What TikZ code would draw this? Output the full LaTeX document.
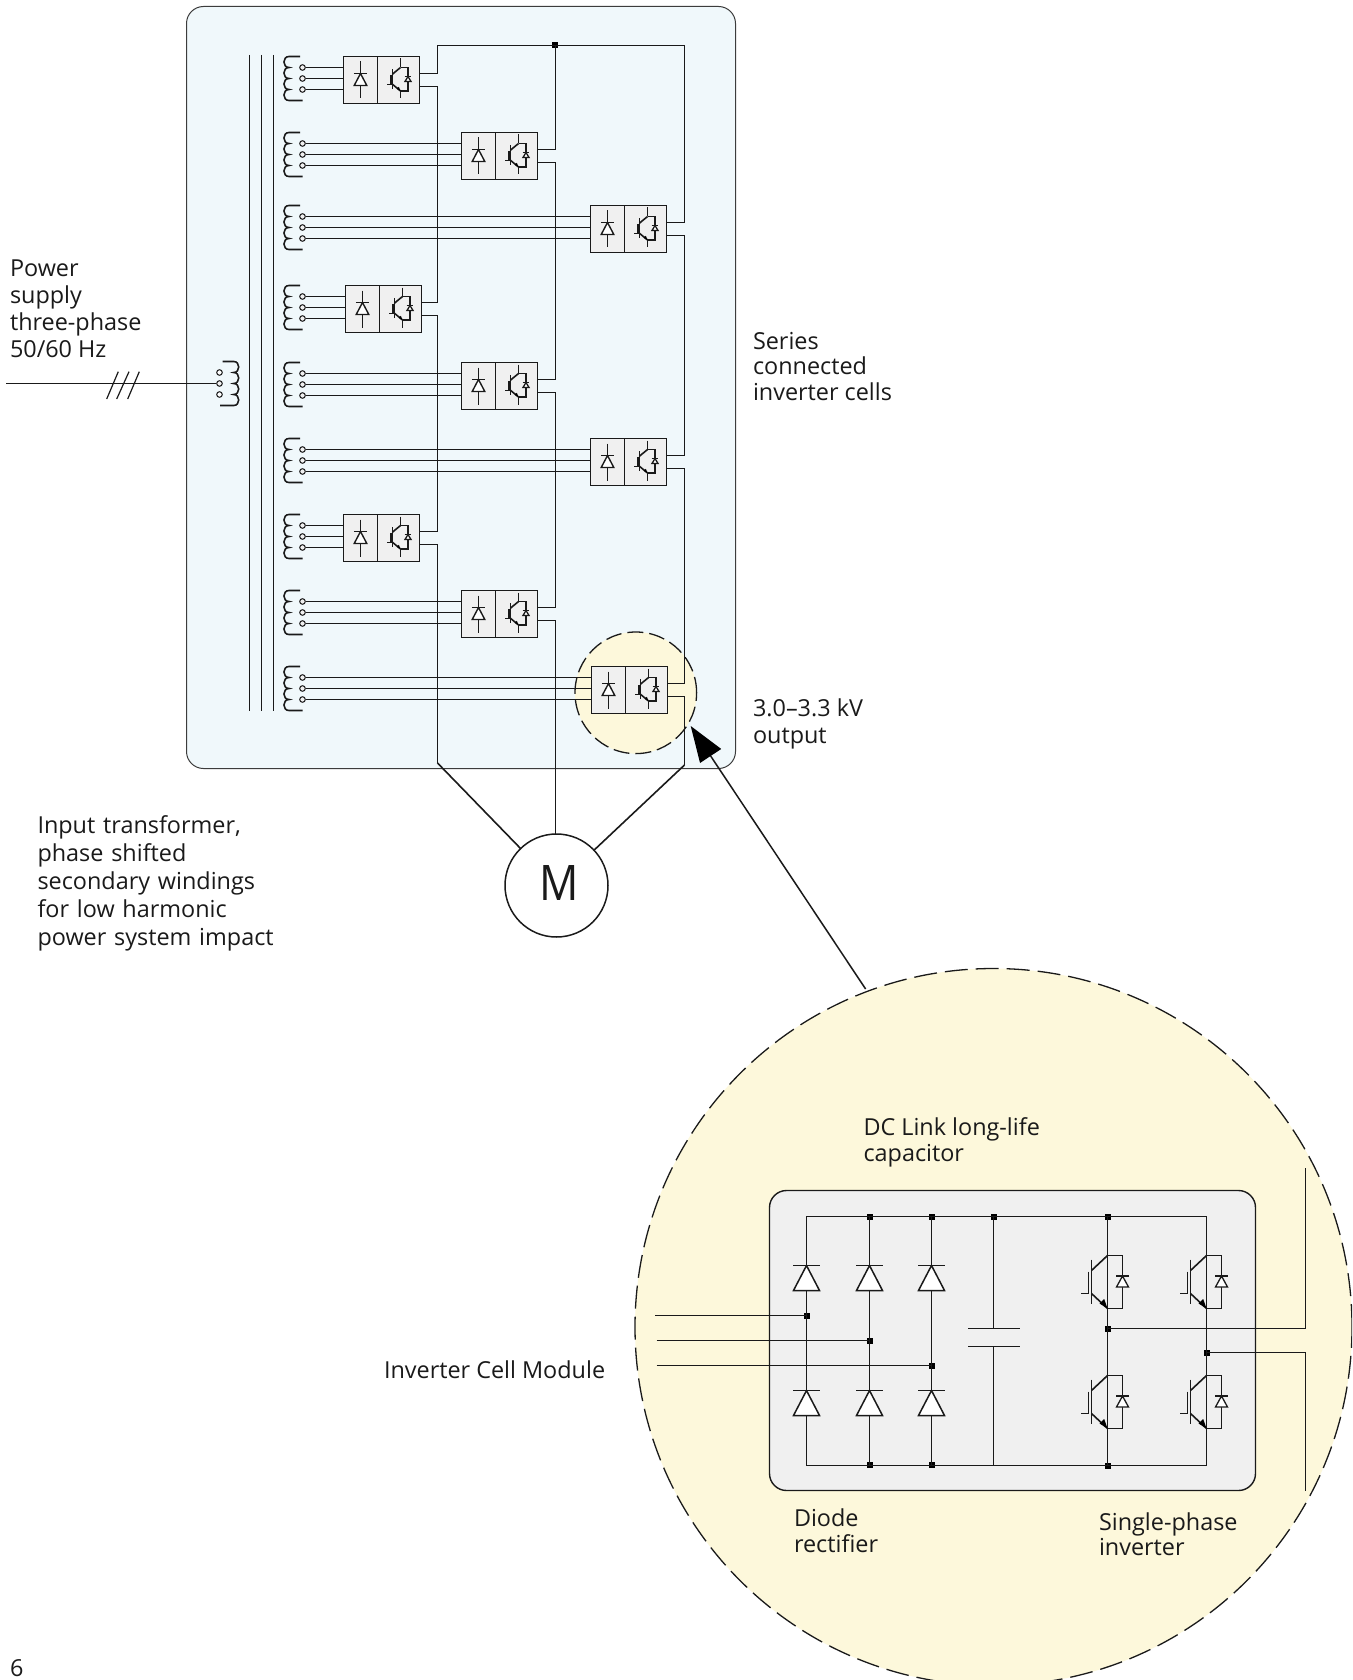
\documentclass[tikz,border=0pt]{standalone}
\usepackage{fontspec}
\usepackage{graphicx}
\setmainfont{Open Sans}
\usetikzlibrary{arrows.meta,calc}
\definecolor{panelblue}{HTML}{F0F8FB}
\definecolor{creamy}{HTML}{FDF8DB}
\definecolor{cellgrey}{HTML}{F0F0F0}
\definecolor{ink}{HTML}{1A1A1A}
\tikzset{
  wire/.style={draw=ink,line width=1.6pt,line cap=butt,line join=miter},
  cellbox/.style={draw=ink,fill=cellgrey,line width=1.6pt,minimum width=76pt,minimum height=47pt,inner sep=0pt,outer sep=0pt,anchor=north west},
  tap/.style={circle,draw=ink,fill=cellgrey,line width=1pt,minimum size=5.6pt,inner sep=0pt},
  junc/.style={rectangle,fill=black,minimum size=6pt,inner sep=0pt,outer sep=0pt},
  lbl/.style={anchor=north west,align=left,inner sep=0pt,outer sep=0pt,font=\fontsize{23.4pt}{#1pt}\selectfont,text=ink},
  dcircle/.style={circle,fill=creamy,draw=ink,line width=1.3pt,inner sep=0pt,outer sep=0pt},
}
\newcommand{\windingpath}{(16,0) -- (5,0)
  .. controls (-1.7,0) and (-1.7,11) .. (5,11)
  .. controls (-1.7,11) and (-1.7,22) .. (5,22)
  .. controls (-1.7,22) and (-1.7,33) .. (5,33)
  .. controls (-1.7,33) and (-1.7,44) .. (5,44) -- (18.7,44)}
\newcommand{\ddiode}[5]{% x, bar y, half width, height, line width
  \filldraw[draw=ink,fill=white,line width=#5pt,line join=miter] (#1,#2) -- (#1-#3,#2+#4) -- (#1+#3,#2+#4) -- cycle;
  \draw[draw=ink,line width=#5pt] (#1-#3-.3,#2) -- (#1+#3+.3,#2);}
\newcommand{\igbt}[4]{% x y xscale yscale
  \begin{scope}[shift={(#1,#2)},xscale=#3,yscale=#4]
    \draw[wire] (0,0) -- (-16,15);
    \draw[wire] (-16,4) -- (-16,48);
    \draw[wire] (-19,16) -- (-19,38) -- (-27,38);
    \draw[wire] (-16,38) -- (0,53);
    \fill[black] (0,53) -- (-8,48) -- (-3.3,43.5) -- cycle;
    \draw[wire] (0,0) -- (15,0) -- (15,53) -- (0,53);
  \end{scope}
  \pgfmathsetmacro{\dx}{#1+15*#3}
  \pgfmathsetmacro{\dy}{#2+20.5*#4}
  \pgfmathsetmacro{\dw}{6*#3}
  \pgfmathsetmacro{\dh}{11*#4}
  \ddiode{\dx}{\dy}{\dw}{\dh}{1.3}}
\newcommand{\cell}[3]{% name x y
  \node[tap] (#1-t1) at (302.5,#3+11) {};
  \node[tap] (#1-t2) at (302.5,#3+22) {};
  \node[tap] (#1-t3) at (302.5,#3+33) {};
  \begin{scope}[shift={(284,#3)}]
    \draw[wire] \windingpath;
  \end{scope}
  \node[cellbox] (#1) at (#2,#3) {};
  \draw[wire] (#1-t1) -- (#1-t1 -| #1.west);
  \draw[wire] (#1-t2) -- (#1-t2 -| #1.west);
  \draw[wire] (#1-t3) -- (#1-t3 -| #1.west);
  \draw[wire] (#2+34,#3) -- (#2+34,#3+47);
  \draw[wire] (#2+17,#3+5) -- (#2+17,#3+42);
  \ddiode{#2+17}{#3+17}{6.3}{12}{1.4}
  \draw[wire] (#2+57,#3+2) -- (#2+57,#3+11);
  \draw[wire] (#2+57,#3+34) -- (#2+57,#3+42);
  \igbt{#2+57}{#3+11}{.5}{.443}
  \coordinate (#1-up) at (#2+76,#3+17);
  \coordinate (#1-lo) at (#2+76,#3+30);}
\newcommand{\linkcells}[3]{\draw[wire] (#1-lo) -- (#1-lo -| #3) -- (#2-up -| #3) -- (#2-up);}
\begin{document}
\begin{tikzpicture}[x=1pt,y=-1pt]
\useasboundingbox (0,0) rectangle (1352,1680);
\clip (0,0) rectangle (1352,1680);
\fill[white] (0,0) rectangle (1352,1680);
% panel
\filldraw[fill=panelblue,draw=ink!85,line width=1pt,rounded corners=17pt] (186.5,6.5) rectangle (735.5,768.5);
\node[dcircle,minimum size=121.6pt,dash pattern=on 16pt off 6pt] (small) at (635.8,692.8) {};
% transformer core
\foreach \cx in {249.5,261.5,273.5} \draw[wire] (\cx,55) -- (\cx,711);
% column helpers
\coordinate (n1) at (437.5,45.5);
\coordinate (n2) at (555.5,45.5);
\coordinate (n3) at (684.5,45.5);
\coordinate (bot1) at (437.5,763);
\coordinate (bot3) at (684.5,765);
% motor
\node[circle,draw=ink,fill=white,line width=1.5pt,minimum size=103pt,inner sep=0pt,outer sep=0pt] (M) at (556.5,885.5) {};
\node[inner sep=0pt,outer sep=0pt,text=ink] (mtext) at (559.3,882.6) {\scalebox{.89}[1]{\fontsize{49pt}{49pt}\selectfont M}};
% cells
\cell{c1}{343.5}{56.5}
\cell{c2}{461.5}{132.5}
\cell{c3}{590.5}{205.5}
\cell{c4}{345.5}{285.5}
\cell{c5}{461.5}{362.5}
\cell{c6}{590.5}{438.5}
\cell{c7}{343.5}{514.5}
\cell{c8}{461.5}{590.5}
\cell{c9}{591.5}{666.5}
\node[junc] (top) at (554.5,45.5) {};
\draw[wire] (c1-up) -| (n1) -- (n3) |- (c3-up);
\draw[wire] (n2) -- (n2 |- c2-up) -- (c2-up);
\linkcells{c1}{c4}{n1}
\linkcells{c4}{c7}{n1}
\linkcells{c2}{c5}{n2}
\linkcells{c5}{c8}{n2}
\linkcells{c3}{c6}{n3}
\linkcells{c6}{c9}{n3}
\draw[wire] (c7-lo) -| (bot1);
\draw[wire] (bot1) -- (M);
\draw[wire] (c8-lo) -| (n2 |- M.north);
\draw[wire] (c9-lo) -| (bot3);
\draw[wire] (bot3) -- (M);
% primary
\node[tap,fill=white] (p1) at (219.5,372.5) {};
\node[tap,fill=cellgrey] (p2) at (219.5,383.5) {};
\node[tap,fill=white] (p3) at (219.5,394.5) {};
\begin{scope}[shift={(238.7,361.5)},xscale=-1]
  \draw[wire] \windingpath;
\end{scope}
\coordinate (pin) at (6,383.5);
\draw[wire] (pin) -- (p2);
\draw[draw=ink,line width=1.2pt] (106.7,399) -- (118.3,371.7) (116.7,399) -- (129,371.7) (127.7,399) -- (139.3,371.7);
% big circle
\node[dcircle,minimum size=717pt,dash pattern=on 23pt off 8pt] (big) at (993.5,1327) {};
\coordinate (tip) at (690.7,726);
\coordinate (tail) at (865.6,989);
\draw[draw=ink,line width=1.5pt,-{Triangle[length=36pt,width=25pt,color=black]}] (tail) -- (tip);
% grey box
\filldraw[fill=cellgrey,draw=ink,line width=1.4pt,rounded corners=17pt] (769.5,1190.5) rectangle (1255.5,1490.5);
\coordinate (tl) at (806.5,1216.5);
\coordinate (tr) at (1206.5,1216.5);
\coordinate (bl) at (806.5,1465.5);
\coordinate (br) at (1206.5,1465.5);
\node[junc] (jt2) at (869.5,1216.5) {};
\node[junc] (jt3) at (931.5,1216.5) {};
\node[junc] (jt4) at (993.5,1216.5) {};
\node[junc] (jt5) at (1107.5,1216.5) {};
\node[junc] (jb2) at (869.5,1464.5) {};
\node[junc] (jb3) at (931.5,1464.5) {};
\node[junc] (jb5) at (1107.5,1465.5) {};
\node[junc] (ji1) at (806.5,1315.5) {};
\node[junc] (ji2) at (869.5,1340.5) {};
\node[junc] (ji3) at (931.5,1365.5) {};
\node[junc] (jm1) at (1107.5,1328.5) {};
\node[junc] (jm2) at (1206.5,1352.5) {};
\draw[wire] (tl) -- (tr) -- (br) -- (bl) -- cycle;
\draw[wire] (jt2.center) -- (jt2.center |- bl);
\draw[wire] (jt3.center) -- (jt3.center |- bl);
\coordinate (i1) at (655.3,1315.5);
\coordinate (i2) at (656.7,1340.5);
\coordinate (i3) at (656.7,1365.5);
\draw[wire] (i1) -- (ji1.center);
\draw[wire] (i2) -- (ji2.center);
\draw[wire] (i3) -- (ji3.center);
\foreach \dxx in {806.5,869.5,931.5}{
  \ddiode{\dxx}{1265.5}{13}{25}{1.5}
  \ddiode{\dxx}{1390.5}{13}{25}{1.5}
}
% capacitor
\coordinate (cp1) at (993.5,1328.5);
\coordinate (cp2) at (993.5,1346.5);
\coordinate (cb) at (993.5,1465.5);
\draw[wire] (jt4.center) -- (cp1);
\draw[wire] (cp2) -- (cb);
\draw[wire] (968.3,1328.5) -- (1020,1328.5);
\draw[wire] (968.3,1346.5) -- (1020,1346.5);
% IGBT legs
\draw[wire] (jt5.center) -- (jb5.center);
\igbt{1107.5}{1255.5}{1}{1}
\igbt{1206.5}{1255.5}{1}{1}
\igbt{1107.5}{1375.5}{1}{1}
\igbt{1206.5}{1375.5}{1}{1}
\coordinate (o1) at (1305.5,1168);
\coordinate (o2) at (1305.5,1490.7);
\draw[wire] (jm1.center) -| (o1);
\draw[wire] (jm2.center) -| (o2);
% labels
\node[lbl=27] (l1) at (10,259.5) {Power\\supply\\three-phase\\50/60 Hz};
\node[lbl=25.7] (l2) at (753,332) {Series\\connected\\inverter cells};
\node[lbl=27] (l3) at (753,698.5) {3.0–3.3 kV\\output};
\node[lbl=28.1,text width=300pt] (l4) at (37.5,815.5) {Input transformer,\\phase shifted\\secondary windings\\for low harmonic\\power system impact};
\node[lbl=25.7] (l5) at (863.5,1117.5) {DC Link long-life\\capacitor};
\node[lbl=27] (l6) at (384,1360.5) {Inverter Cell Module};
\node[lbl=26.6] (l7) at (794,1508.5) {Diode\\rectifier};
\node[lbl=25.7] (l8) at (1099,1512.5) {Single-phase\\inverter};
\node[lbl=27] (l9) at (10,1660) {6};
\end{tikzpicture}
\end{document}
